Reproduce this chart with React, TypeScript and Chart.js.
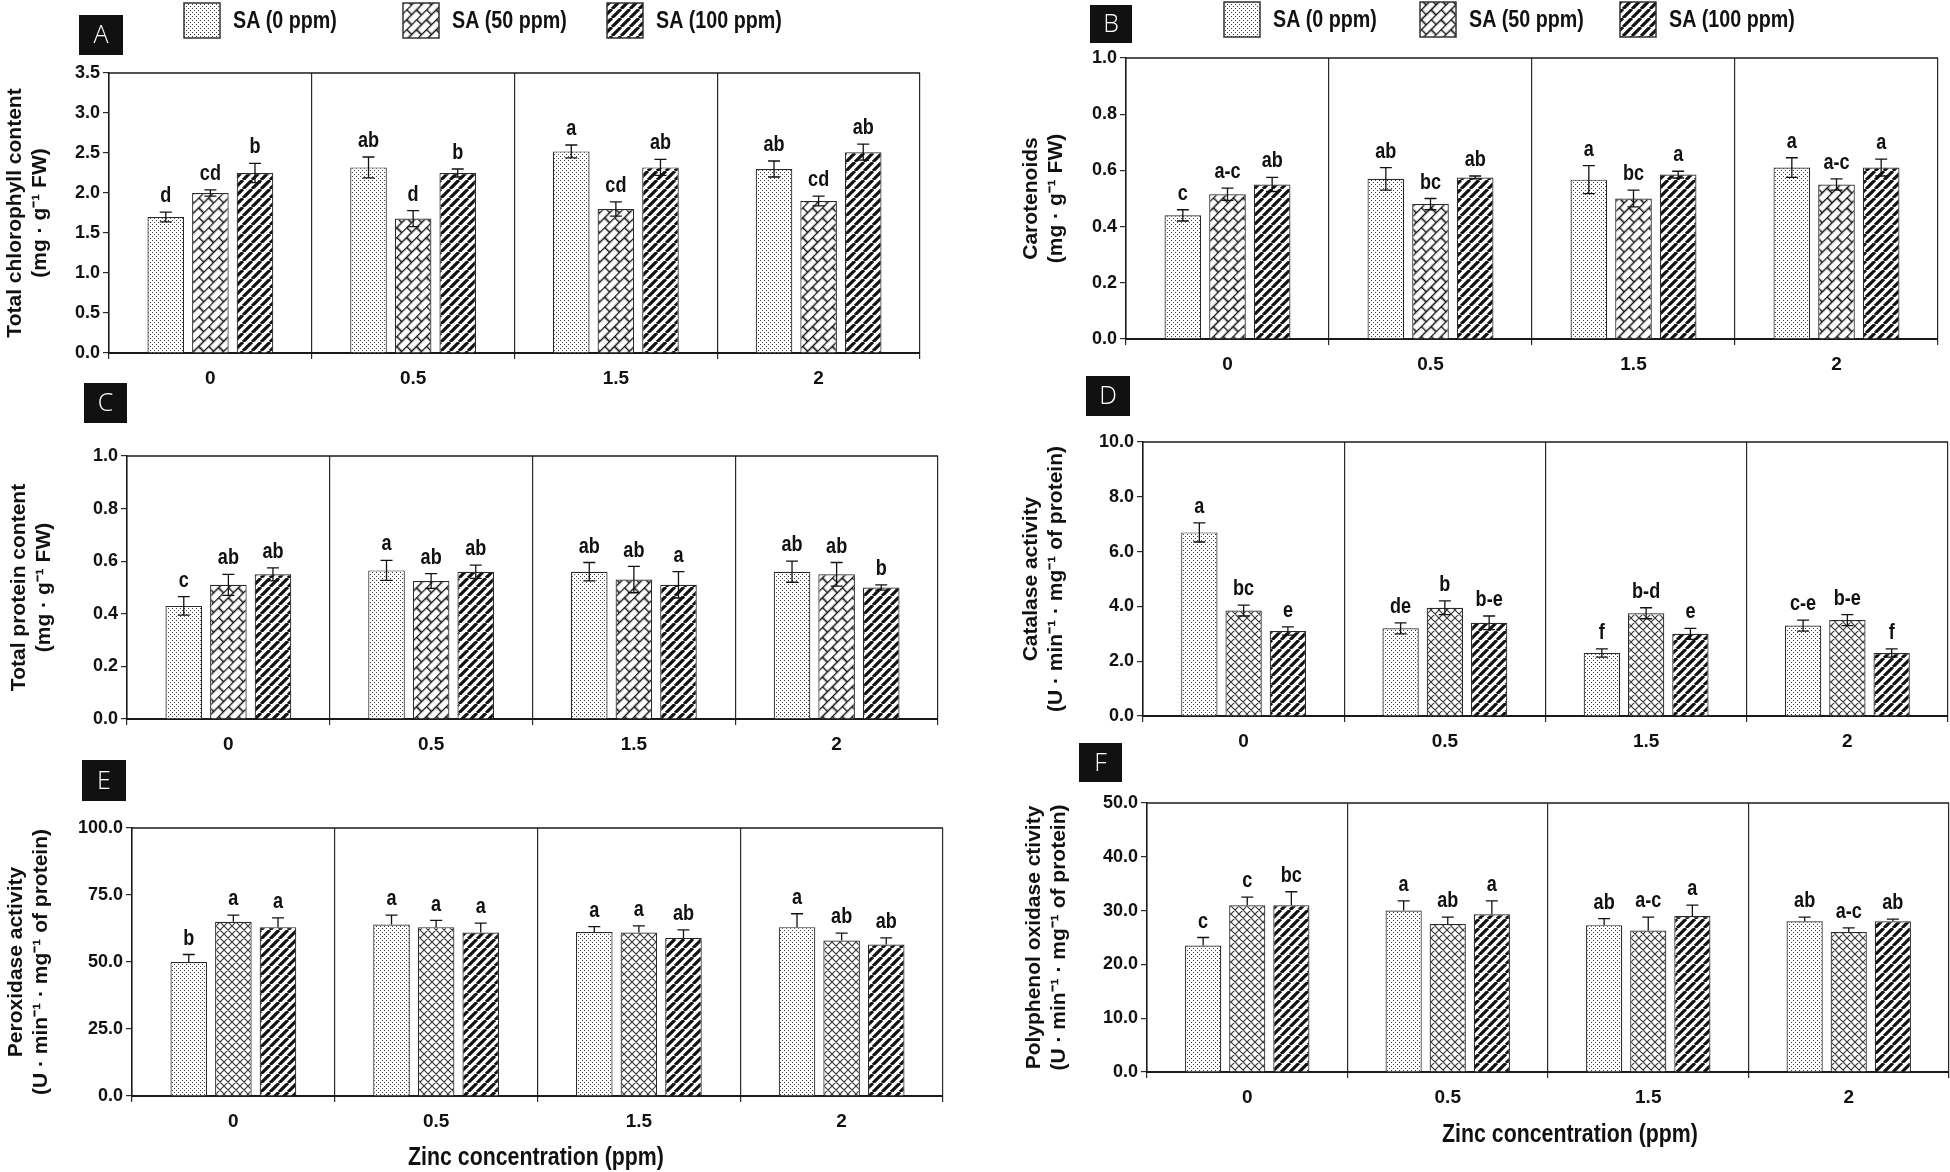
import React, { useEffect, useRef } from "react";
import { Chart, BarController, BarElement, CategoryScale, LinearScale } from "chart.js";

Chart.register(BarController, BarElement, CategoryScale, LinearScale);

const sans = "'Liberation Sans', Arial, sans-serif";
Chart.defaults.font.family = sans;
Chart.defaults.color = "#111";

// x categories and series
const zincLevels = ["0", "0.5", "1.5", "2"];
const saLabels = ["SA (0 ppm)", "SA (50 ppm)", "SA (100 ppm)"];

// A - total chlorophyll (rows = SA 0 / 50 / 100)
const chlorophyllMeans = [
  [1.7, 2.32, 2.52, 2.3],
  [2.0, 1.68, 1.8, 1.9],
  [2.25, 2.25, 2.32, 2.51],
];
const chlorophyllErrors = [
  [0.06, 0.13, 0.08, 0.1],
  [0.04, 0.1, 0.09, 0.06],
  [0.12, 0.05, 0.1, 0.1],
];
const chlorophyllLetters = [
  ["d", "ab", "a", "ab"],
  ["cd", "d", "cd", "cd"],
  ["b", "b", "ab", "ab"],
];

// B - carotenoids
const carotenoidMeans = [
  [0.44, 0.57, 0.567, 0.61],
  [0.515, 0.48, 0.5, 0.55],
  [0.55, 0.575, 0.585, 0.61],
];
const carotenoidErrors = [
  [0.02, 0.04, 0.05, 0.035],
  [0.022, 0.02, 0.03, 0.02],
  [0.025, 0.005, 0.012, 0.03],
];
const carotenoidLetters = [
  ["c", "ab", "a", "a"],
  ["a-c", "bc", "bc", "a-c"],
  ["ab", "ab", "a", "a"],
];

// C - total protein
const proteinMeans = [
  [0.43, 0.565, 0.56, 0.56],
  [0.51, 0.525, 0.53, 0.55],
  [0.55, 0.56, 0.51, 0.5],
];
const proteinErrors = [
  [0.035, 0.038, 0.035, 0.04],
  [0.04, 0.028, 0.05, 0.045],
  [0.025, 0.025, 0.05, 0.01],
];
const proteinLetters = [
  ["c", "a", "ab", "ab"],
  ["ab", "ab", "ab", "ab"],
  ["ab", "ab", "a", "b"],
];

// D - catalase
const catalaseMeans = [
  [6.7, 3.2, 2.3, 3.3],
  [3.85, 3.95, 3.75, 3.5],
  [3.1, 3.4, 3.0, 2.3],
];
const catalaseErrors = [
  [0.35, 0.2, 0.15, 0.2],
  [0.2, 0.25, 0.2, 0.2],
  [0.15, 0.25, 0.2, 0.15],
];
const catalaseLetters = [
  ["a", "de", "f", "c-e"],
  ["bc", "b", "b-d", "b-e"],
  ["e", "b-e", "e", "f"],
];

// E - peroxidase
const peroxidaseMeans = [
  [50, 64, 61.2, 63],
  [65, 63, 61, 58],
  [63, 61, 59, 56.5],
];
const peroxidaseErrors = [
  [2.8, 3.5, 2, 5],
  [2.5, 2.5, 2.5, 2.8],
  [3.5, 3.5, 3, 2.5],
];
const peroxidaseLetters = [
  ["b", "a", "a", "a"],
  ["a", "a", "a", "ab"],
  ["a", "a", "ab", "ab"],
];

// F - polyphenol oxidase
const ppoMeans = [
  [23.5, 30, 27.3, 28],
  [31, 27.5, 26.3, 26],
  [31, 29.3, 29, 28],
];
const ppoErrors = [
  [1.5, 1.8, 1.2, 0.8],
  [1.5, 1.3, 2.5, 0.8],
  [2.5, 2.5, 2, 0.4],
];
const ppoLetters = [
  ["c", "a", "ab", "ab"],
  ["c", "ab", "a-c", "a-c"],
  ["bc", "a", "a", "ab"],
];

const fwUnit = "(mg · g⁻¹ FW)";
const enzymeUnit = "(U · min⁻¹ · mg⁻¹ of protein)";
const xTitleText = "Zinc concentration (ppm)";

type Rect = { x: number; y: number; w: number; h: number };
type Area = { l: number; t: number; r: number; b: number };
type Panel = {
  tag: string;
  means: number[][];
  errors: number[][];
  letters: string[][];
  yMax: number;
  yStep: number;
  yTitle: string[];
  hatch: "brick" | "cross";
  oneSided: boolean;
  box: Rect;
  area: Area;
  tagBox: Rect;
  yTitleX: number;
  legendX?: number[];
  legendY?: number;
  xTitleAt?: { x: number; y: number };
};

const panels: Panel[] = [
  {
    tag: "A", means: chlorophyllMeans, errors: chlorophyllErrors, letters: chlorophyllLetters,
    yMax: 3.5, yStep: 0.5, yTitle: ["Total chlorophyll content", fwUnit], hatch: "brick", oneSided: false,
    box: { x: 0, y: 0, w: 975, h: 400 }, area: { l: 109, t: 73, r: 920, b: 353 },
    tagBox: { x: 79, y: 15, w: 44, h: 40 }, yTitleX: 15, legendX: [184, 403, 607], legendY: 3,
  },
  {
    tag: "B", means: carotenoidMeans, errors: carotenoidErrors, letters: carotenoidLetters,
    yMax: 1.0, yStep: 0.2, yTitle: ["Carotenoids", fwUnit], hatch: "brick", oneSided: false,
    box: { x: 975, y: 0, w: 975, h: 390 }, area: { l: 1126, t: 58, r: 1938, b: 339 },
    tagBox: { x: 1090, y: 5, w: 42, h: 38 }, yTitleX: 1031, legendX: [1224, 1420, 1620], legendY: 2,
  },
  {
    tag: "C", means: proteinMeans, errors: proteinErrors, letters: proteinLetters,
    yMax: 1.0, yStep: 0.2, yTitle: ["Total protein content", fwUnit], hatch: "brick", oneSided: false,
    box: { x: 0, y: 380, w: 975, h: 390 }, area: { l: 127, t: 456, r: 938, b: 719 },
    tagBox: { x: 84, y: 383, w: 43, h: 40 }, yTitleX: 19,
  },
  {
    tag: "D", means: catalaseMeans, errors: catalaseErrors, letters: catalaseLetters,
    yMax: 10, yStep: 2, yTitle: ["Catalase activity", enzymeUnit], hatch: "cross", oneSided: false,
    box: { x: 975, y: 370, w: 975, h: 390 }, area: { l: 1143, t: 442, r: 1948, b: 716 },
    tagBox: { x: 1086, y: 376, w: 44, h: 40 }, yTitleX: 1031,
  },
  {
    tag: "E", means: peroxidaseMeans, errors: peroxidaseErrors, letters: peroxidaseLetters,
    yMax: 100, yStep: 25, yTitle: ["Peroxidase activity", enzymeUnit], hatch: "cross", oneSided: true,
    box: { x: 0, y: 750, w: 975, h: 422 }, area: { l: 132, t: 828, r: 943, b: 1096 },
    tagBox: { x: 82, y: 760, w: 44, h: 41 }, yTitleX: 16, xTitleAt: { x: 536, y: 1158 },
  },
  {
    tag: "F", means: ppoMeans, errors: ppoErrors, letters: ppoLetters,
    yMax: 50, yStep: 10, yTitle: ["Polyphenol oxidase ctivity", enzymeUnit], hatch: "cross", oneSided: true,
    box: { x: 975, y: 730, w: 975, h: 442 }, area: { l: 1147, t: 803, r: 1949, b: 1072 },
    tagBox: { x: 1079, y: 743, w: 43, h: 39 }, yTitleX: 1034, xTitleAt: { x: 1570, y: 1135 },
  },
];

// small tiles used as fill patterns
function makePattern(size: number, draw: (c: CanvasRenderingContext2D) => void) {
  const cv = document.createElement("canvas");
  cv.width = size;
  cv.height = size;
  const c = cv.getContext("2d")!;
  c.fillStyle = "#fff";
  c.fillRect(0, 0, size, size);
  draw(c);
  return c.createPattern(cv, "repeat")!;
}

function dotPattern() {
  return makePattern(4, (c) => {
    c.fillStyle = "#3a3a3a";
    c.fillRect(0, 0, 1, 1);
    c.fillRect(2, 2, 1, 1);
  });
}

function stripePattern() {
  return makePattern(9, (c) => {
    c.strokeStyle = "#111";
    c.lineWidth = 3.2;
    c.beginPath();
    for (const o of [-9, 0, 9]) {
      c.moveTo(o, 9);
      c.lineTo(o + 9, 0);
    }
    c.stroke();
  });
}

function crossPattern() {
  return makePattern(8, (c) => {
    c.strokeStyle = "#333";
    c.lineWidth = 1.1;
    c.beginPath();
    for (const o of [-8, 0, 8]) {
      c.moveTo(o, 8);
      c.lineTo(o + 8, 0);
      c.moveTo(o, 0);
      c.lineTo(o + 8, 8);
    }
    c.stroke();
  });
}

function brickPattern() {
  const p = makePattern(14, (c) => {
    c.strokeStyle = "#111";
    c.lineWidth = 1.7;
    c.beginPath();
    c.moveTo(0, 0.5); c.lineTo(14, 0.5);
    c.moveTo(0, 7.5); c.lineTo(14, 7.5);
    c.moveTo(0.5, 0); c.lineTo(0.5, 7.5);
    c.moveTo(7.5, 7.5); c.lineTo(7.5, 14);
    c.stroke();
  });
  p.setTransform(new DOMMatrix().rotate(-45));
  return p;
}

// condensed bold text: the reference uses a narrow face, emulated by squeezing x
function narrowText(ctx: CanvasRenderingContext2D, text: string, x: number, y: number, size: number, align: CanvasTextAlign) {
  ctx.save();
  ctx.font = `bold ${size}px ${sans}`;
  ctx.textAlign = align;
  ctx.translate(x, y);
  ctx.scale(0.82, 1);
  ctx.fillText(text, 0, 0);
  ctx.restore();
}

const PanelChart: React.FC<{ panel: Panel }> = ({ panel }) => {
  const canvasRef = useRef<HTMLCanvasElement | null>(null);
  const chartRef = useRef<Chart | null>(null);

  useEffect(() => {
    if (!canvasRef.current) return;
    const { box, area } = panel;
    const fills = [dotPattern(), panel.hatch === "brick" ? brickPattern() : crossPattern(), stripePattern()];

    // error bars, letters, frame, panel tag, legend and x title
    const decor = {
      id: "decor",
      afterDatasetsDraw(chart: any) {
        const ctx = chart.ctx;
        const y = chart.scales.y;
        const ca = chart.chartArea;
        ctx.save();
        ctx.strokeStyle = "#1a1a1a";
        ctx.lineWidth = 1.5;
        ctx.beginPath();
        ctx.moveTo(ca.left, ca.top);
        ctx.lineTo(ca.right, ca.top);
        ctx.stroke();

        ctx.lineWidth = 1.3;
        ctx.strokeStyle = "#111";
        ctx.fillStyle = "#111";
        ctx.textBaseline = "bottom";
        panel.means.forEach((series, si) => {
          const meta = chart.getDatasetMeta(si);
          series.forEach((v, ci) => {
            const bar = meta.data[ci];
            const err = panel.errors[si][ci];
            const top = y.getPixelForValue(v + err);
            const bottom = panel.oneSided ? y.getPixelForValue(v) : y.getPixelForValue(v - err);
            const x = bar.x;
            ctx.beginPath();
            ctx.moveTo(x, top);
            ctx.lineTo(x, bottom);
            ctx.moveTo(x - 6, top);
            ctx.lineTo(x + 6, top);
            if (!panel.oneSided) {
              ctx.moveTo(x - 6, bottom);
              ctx.lineTo(x + 6, bottom);
            }
            ctx.stroke();
            narrowText(ctx, panel.letters[si][ci], x, top - 5, 22, "center");
          });
        });
        ctx.restore();
      },
      afterDraw(chart: any) {
        const ctx = chart.ctx;
        ctx.save();
        const t = panel.tagBox;
        ctx.fillStyle = "#111";
        ctx.fillRect(t.x - box.x, t.y - box.y, t.w, t.h);
        ctx.fillStyle = "#fff";
        ctx.font = "300 25px 'Open Sans', 'Noto Sans', sans-serif";
        ctx.textAlign = "center";
        ctx.textBaseline = "middle";
        ctx.fillText(panel.tag, t.x - box.x + t.w / 2, t.y - box.y + t.h / 2 + 1);

        ctx.textBaseline = "middle";
        if (panel.legendX) {
          const ly = (panel.legendY || 0) - box.y;
          saLabels.forEach((label, i) => {
            const lx = panel.legendX![i] - box.x;
            ctx.fillStyle = fills[i];
            ctx.fillRect(lx, ly, 36, 35);
            ctx.strokeStyle = "#333";
            ctx.lineWidth = 1.5;
            ctx.strokeRect(lx, ly, 36, 35);
            ctx.fillStyle = "#111";
            narrowText(ctx, label, lx + 49, ly + 18, 24, "left");
          });
        }

        if (panel.xTitleAt) {
          ctx.fillStyle = "#111";
          narrowText(ctx, xTitleText, panel.xTitleAt.x - box.x, panel.xTitleAt.y - box.y, 26, "center");
        }
        ctx.restore();
      },
    };

    chartRef.current = new Chart(canvasRef.current, {
      type: "bar",
      data: {
        labels: zincLevels,
        datasets: saLabels.map((label, i) => ({
          label,
          data: panel.means[i],
          backgroundColor: fills[i],
          borderColor: "#2a2a2a",
          borderWidth: 1.2,
          categoryPercentage: 0.66,
          barPercentage: 0.82,
        })),
      },
      options: {
        responsive: false,
        animation: false,
        layout: {
          padding: { left: 0, top: area.t - box.y, right: box.x + box.w - area.r, bottom: 0 },
        },
        plugins: { legend: { display: false }, tooltip: { enabled: false } },
        scales: {
          x: {
            grid: { offset: true, color: "#2a2a2a", lineWidth: 1.2, tickLength: 6 },
            border: { display: true, color: "#1a1a1a", width: 2 },
            ticks: { font: { size: 19, weight: "bold" }, color: "#111", padding: 8, maxRotation: 0, autoSkip: false },
            afterFit: (s: any) => {
              s.height = box.y + box.h - area.b;
            },
          },
          y: {
            min: 0,
            max: panel.yMax,
            ticks: {
              stepSize: panel.yStep,
              callback: (v: any) => Number(v).toFixed(1),
              font: { size: 18, weight: "bold" },
              color: "#111",
              padding: 3,
            },
            grid: { drawOnChartArea: false, drawTicks: true, tickLength: 6, color: "#2a2a2a", lineWidth: 1.2 },
            border: { display: true, color: "#1a1a1a", width: 1.5 },
            title: {
              display: true,
              text: panel.yTitle,
              font: { size: 21, weight: "bold" },
              color: "#111",
              padding: { top: panel.yTitleX - box.x - 12.6, bottom: 0 },
            },
            afterFit: (s: any) => {
              s.width = area.l - box.x;
            },
          },
        },
      } as any,
      plugins: [decor],
    });

    return () => {
      if (chartRef.current) {
        chartRef.current.destroy();
        chartRef.current = null;
      }
    };
  }, [panel]);

  return (
    <canvas
      ref={canvasRef}
      width={panel.box.w}
      height={panel.box.h}
      style={{ position: "absolute", left: panel.box.x, top: panel.box.y, width: panel.box.w, height: panel.box.h }}
    />
  );
};

const App: React.FC = () => {
  return (
    <div style={{ position: "absolute", left: 0, top: 0, width: 1950, height: 1172, background: "#fff" }}>
      {panels.map((p) => (
        <PanelChart key={p.tag} panel={p} />
      ))}
    </div>
  );
};

export default App;
